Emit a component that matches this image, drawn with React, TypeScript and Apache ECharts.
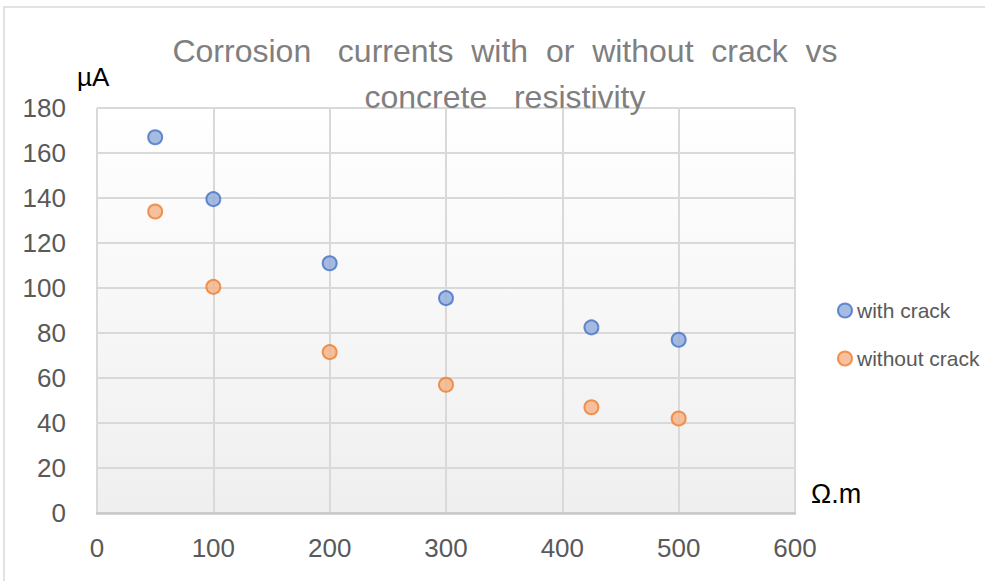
import React, { useEffect, useRef } from "react";
import * as echarts from "echarts";

const xValues = [50, 100, 200, 300, 425, 500];
const withCrack = [167, 139.5, 111, 95.5, 82.5, 77];
const withoutCrack = [134, 100.5, 71.5, 57, 47, 42];
const seriesNames = ["with crack", "without crack"];

export default function App() {
  const ref = useRef<HTMLDivElement>(null);
  useEffect(() => {
    if (!ref.current) return;
    const chart = echarts.init(ref.current, null, { renderer: "svg" });
    const font = "'Liberation Sans', Arial, sans-serif";
    chart.setOption({
      animation: false,
      backgroundColor: "#ffffff",
      graphic: [
        {
          type: "rect",
          shape: { x: 4, y: 7, width: 1000, height: 600 },
          style: { fill: "none", stroke: "#d9d9d9", lineWidth: 1.5 },
          silent: true,
        },
      ],
      title: {
        text: "Corrosion   currents  with  or  without  crack  vs\nconcrete   resistivity",
        left: 500,
        textAlign: "center",
        top: 23,
        textStyle: {
          fontFamily: font,
          fontSize: 32,
          fontWeight: "normal",
          color: "#7f7f7f",
          lineHeight: 46,
        },
      },
      legend: {
        orient: "vertical",
        left: 832,
        top: 295,
        itemGap: 27,
        itemWidth: 14,
        itemHeight: 14,
        data: seriesNames,
        textStyle: { fontFamily: font, fontSize: 21, color: "#595959" },
      },
      grid: {
        left: 97,
        top: 108,
        right: 190,
        bottom: 68,
        show: true,
        borderWidth: 0,
        backgroundColor: new echarts.graphic.LinearGradient(0, 0, 0, 1, [
          { offset: 0, color: "#ffffff" },
          { offset: 1, color: "#efefef" },
        ]),
      },
      xAxis: {
        type: "value",
        min: 0,
        max: 600,
        interval: 100,
        name: "Ω.m",
        nameLocation: "end",
        nameGap: 16,
        nameTextStyle: {
          fontFamily: font,
          fontSize: 27,
          color: "#000000",
          verticalAlign: "bottom",
          padding: [0, 0, 6, 0],
        },
        axisLine: { show: true, lineStyle: { color: "#c8c8c8", width: 2.5 } },
        axisTick: { show: false },
        axisLabel: {
          fontFamily: font,
          fontSize: 26,
          color: "#595959",
          margin: 22,
        },
        splitLine: { show: true, lineStyle: { color: "#d9d9d9", width: 2 } },
      },
      yAxis: {
        type: "value",
        min: 0,
        max: 180,
        interval: 20,
        name: "µA",
        nameLocation: "end",
        nameGap: 18,
        nameTextStyle: {
          fontFamily: font,
          fontSize: 26,
          color: "#000000",
          align: "left",
          padding: [0, 0, 0, -20],
        },
        axisLine: { show: false },
        axisTick: { show: false },
        axisLabel: {
          fontFamily: font,
          fontSize: 26,
          color: "#595959",
          margin: 31,
        },
        splitLine: { show: true, lineStyle: { color: "#d9d9d9", width: 2 } },
      },
      series: [
        {
          name: seriesNames[0],
          type: "scatter",
          symbol: "circle",
          symbolSize: 14,
          data: xValues.map((x, i) => [x, withCrack[i]]),
          itemStyle: { color: "#8eaadb", borderColor: "#4472c4", borderWidth: 2 },
        },
        {
          name: seriesNames[1],
          type: "scatter",
          symbol: "circle",
          symbolSize: 14,
          data: xValues.map((x, i) => [x, withoutCrack[i]]),
          itemStyle: { color: "#f4b183", borderColor: "#ed7d31", borderWidth: 2 },
        },
      ],
    });
    return () => chart.dispose();
  }, []);
  return <div ref={ref} style={{ width: 985, height: 581, position: "absolute", left: 0, top: 0 }} />;
}
